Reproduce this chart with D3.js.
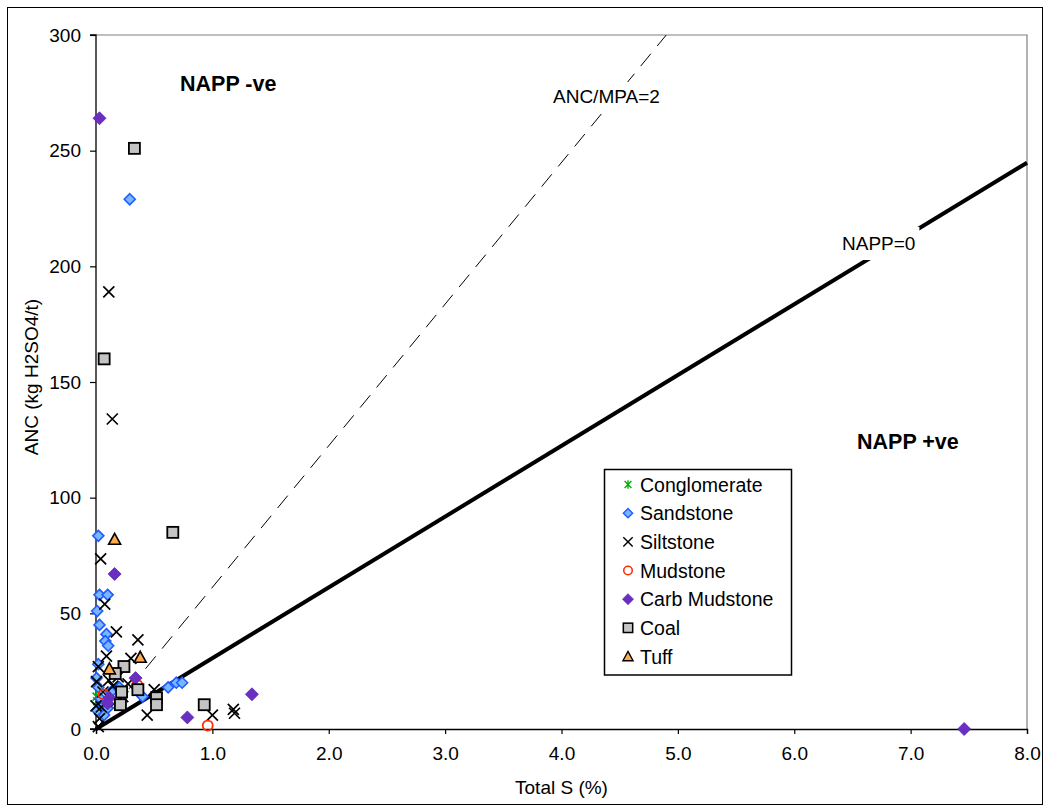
<!DOCTYPE html>
<html>
<head>
<meta charset="utf-8">
<script src="https://cdn.jsdelivr.net/npm/d3@7"></script>
<style>
  html, body { margin: 0; padding: 0; background: #fff; }
  svg { display: block; font-family: "Liberation Sans", Arial, sans-serif; }
</style>
</head>
<body>
<svg id="chart" width="1049" height="810"></svg>
<script>
// Total S (%) and ANC (kg H2SO4/t) for each lithology
const conglomerateS   = [0.005, 0.01];
const conglomerateANC = [14, 12];

const sandstoneS   = [0.29, 0.02, 0.03, 0.10, 0.01, 0.03, 0.09, 0.08, 0.105, 0.02, 0.005, 0.02, 0.04, 0.06, 0.10, 0.13, 0.20, 0.40, 0.62, 0.69, 0.74, 0.01, 0.07];
const sandstoneANC = [229, 83.5, 58, 58, 51, 45, 41, 38, 36, 28, 22, 18, 13, 10, 9, 16, 18, 14, 18, 20, 20, 8, 6];

const siltstoneS   = [0.11, 0.14, 0.04, 0.075, 0.175, 0.36, 0.09, 0.30, 0.02, 0.005, 0.19, 0.145, 0.275, 0.175, 0.045, 0.03, 0.02, 0.44, 1.0, 1.18, 1.19, 0.5, 0.0, 0.06, 0.11, 0.23];
const siltstoneANC = [189, 134, 73.5, 54, 42, 38.5, 31.5, 30.5, 27, 20.5, 22.5, 18.5, 19.5, 12, 9.5, 4.5, 1, 6, 6, 8.5, 6.8, 17, 10, 16, 21, 14];

const mudstoneS   = [0.96, 0.065, 0.355];
const mudstoneANC = [1.5, 15, 19];

const carbMudstoneS   = [0.03, 0.16, 0.34, 0.115, 0.10, 0.785, 1.34, 7.46];
const carbMudstoneANC = [264, 67, 22, 13.5, 11, 5, 15, 0];

const coalS   = [0.33, 0.07, 0.66, 0.24, 0.165, 0.22, 0.36, 0.21, 0.52, 0.52, 0.93];
const coalANC = [251, 160, 85, 27, 24, 16, 17, 10.5, 13.5, 10.5, 10.5];

const tuffS   = [0.16, 0.38, 0.115];
const tuffANC = [82, 31, 26];

// Reference lines: NAPP = 0 and ANC/MPA = 2
const nappZeroS   = [0, 8];
const nappZeroANC = [0, 244.8];
const ratioTwoS   = [0, 4.9];
const ratioTwoANC = [0, 300];

const xTicks = [0, 1, 2, 3, 4, 5, 6, 7, 8];
const yTicks = [0, 50, 100, 150, 200, 250, 300];

const seriesNames = ["Conglomerate", "Sandstone", "Siltstone", "Mudstone", "Carb Mudstone", "Coal", "Tuff"];

const zip = (xs, ys) => xs.map((v, i) => ({ s: v, anc: ys[i] }));
const series = [
  { name: "Conglomerate",  kind: "star",     data: zip(conglomerateS, conglomerateANC) },
  { name: "Sandstone",     kind: "sand",     data: zip(sandstoneS, sandstoneANC) },
  { name: "Siltstone",     kind: "cross",    data: zip(siltstoneS, siltstoneANC) },
  { name: "Mudstone",      kind: "circle",   data: zip(mudstoneS, mudstoneANC) },
  { name: "Carb Mudstone", kind: "carb",     data: zip(carbMudstoneS, carbMudstoneANC) },
  { name: "Coal",          kind: "square",   data: zip(coalS, coalANC) },
  { name: "Tuff",          kind: "triangle", data: zip(tuffS, tuffANC) }
];

const svg = d3.select("#chart");
const plot = { left: 96, right: 1027, top: 35, bottom: 729 };

const x = d3.scaleLinear().domain([0, 8]).range([plot.left, plot.right]);
const y = d3.scaleLinear().domain([0, 300]).range([plot.bottom, plot.top]);

// outer chart frame
svg.append("rect")
  .attr("x", 7.5).attr("y", 7.5).attr("width", 1035).attr("height", 797)
  .attr("fill", "#fff").attr("stroke", "#000").attr("stroke-width", 1);

// plot area border (top / right in grey)
svg.append("path")
  .attr("d", `M${plot.left},${plot.top}H${plot.right}V${plot.bottom}`)
  .attr("fill", "none").attr("stroke", "#808080").attr("stroke-width", 1.2);

// reference lines
const lineGen = d3.line().x(d => x(d.s)).y(d => y(d.anc));
svg.append("path")
  .datum(zip(ratioTwoS, ratioTwoANC))
  .attr("d", lineGen)
  .attr("fill", "none").attr("stroke", "#000").attr("stroke-width", 1)
  .attr("stroke-dasharray", "16,10");
svg.append("path")
  .datum(zip(nappZeroS, nappZeroANC))
  .attr("d", lineGen)
  .attr("fill", "none").attr("stroke", "#000").attr("stroke-width", 4);

// line labels with white backing
function boxedLabel(tx, ty, text, pad) {
  const g = svg.append("g");
  const t = g.append("text").attr("x", tx).attr("y", ty)
    .attr("font-size", 19).attr("fill", "#000").text(text);
  const bb = t.node().getBBox();
  g.insert("rect", "text")
    .attr("x", bb.x - pad[0]).attr("y", bb.y - pad[1])
    .attr("width", bb.width + 2 * pad[0]).attr("height", bb.height + 2 * pad[1])
    .attr("fill", "#fff");
}
boxedLabel(553, 103, "ANC/MPA=2", [3, 4]);
boxedLabel(842, 250, "NAPP=0", [4, 6]);

// axes
const yAxis = svg.append("g")
  .attr("transform", `translate(${plot.left},0)`)
  .call(d3.axisLeft(y).tickValues(yTicks).tickSize(6).tickPadding(9).tickFormat(d3.format("d")));
const xAxis = svg.append("g")
  .attr("transform", `translate(0,${plot.bottom})`)
  .call(d3.axisBottom(x).tickValues(xTicks).tickSize(5).tickPadding(13).tickFormat(d3.format(".1f")));
[yAxis, xAxis].forEach(a => {
  a.select(".domain").attr("stroke", "#000").attr("stroke-width", 1.3);
  a.selectAll(".tick line").attr("stroke", "#000").attr("stroke-width", 1.2);
  a.selectAll(".tick text").attr("font-size", 19).attr("fill", "#000")
    .attr("font-family", "'Liberation Sans', Arial, sans-serif");
});
yAxis.select(".domain").attr("d", `M-6,${plot.top}H0V${plot.bottom}H-6`);

// axis titles
svg.append("text")
  .attr("transform", `translate(38,${(plot.top + plot.bottom) / 2 - 5}) rotate(-90)`)
  .attr("text-anchor", "middle").attr("font-size", 19).attr("fill", "#000")
  .text("ANC (kg H2SO4/t)");
svg.append("text")
  .attr("x", (plot.left + plot.right) / 2).attr("y", 794)
  .attr("text-anchor", "middle").attr("font-size", 19).attr("fill", "#000")
  .text("Total S (%)");

// region labels
svg.append("text").attr("x", 180).attr("y", 91)
  .attr("font-size", 21.5).attr("font-weight", "bold").text("NAPP -ve");
svg.append("text").attr("x", 857).attr("y", 449)
  .attr("font-size", 21.5).attr("font-weight", "bold").text("NAPP +ve");

// marker drawing
function drawMarker(g, kind) {
  switch (kind) {
    case "star":
      g.append("path").attr("d", "M-4,-4L4,4M-4,4L4,-4M0,-5V5")
        .attr("stroke", "#00b000").attr("stroke-width", 1.6).attr("fill", "none");
      break;
    case "sand":
      g.append("path").attr("d", "M0,-5.5L5.5,0L0,5.5L-5.5,0Z")
        .attr("fill", "#7ab6ff").attr("stroke", "#1f5cff").attr("stroke-width", 1.6);
      break;
    case "cross":
      g.append("path").attr("d", "M-5.5,-5.5L5.5,5.5M-5.5,5.5L5.5,-5.5")
        .attr("stroke", "#000").attr("stroke-width", 1.7).attr("fill", "none");
      break;
    case "circle":
      g.append("circle").attr("r", 5)
        .attr("fill", "none").attr("stroke", "#ff2a00").attr("stroke-width", 1.8);
      break;
    case "carb":
      g.append("path").attr("d", "M0,-6.5L6.5,0L0,6.5L-6.5,0Z")
        .attr("fill", "#6a2fc2").attr("stroke", "#5b28b0").attr("stroke-width", 0.8);
      break;
    case "square":
      g.append("rect").attr("x", -5.5).attr("y", -5.5).attr("width", 11).attr("height", 11)
        .attr("fill", "#c4c4c4").attr("stroke", "#000").attr("stroke-width", 1.8);
      break;
    case "triangle":
      g.append("path").attr("d", "M0,-6L6,5H-6Z")
        .attr("fill", "#ffaa4c").attr("stroke", "#000").attr("stroke-width", 1.6)
        .attr("stroke-linejoin", "miter");
      break;
  }
}

// data points, series drawn in legend order
series.forEach(sr => {
  const g = svg.append("g").attr("class", "series");
  g.selectAll("g.pt").data(sr.data).enter().append("g")
    .attr("class", "pt")
    .attr("transform", d => `translate(${x(d.s)},${y(d.anc)})`)
    .each(function () { drawMarker(d3.select(this), sr.kind); });
});

// legend
const legend = svg.append("g");
legend.append("rect")
  .attr("x", 604.5).attr("y", 469.5).attr("width", 187).attr("height", 205.5)
  .attr("fill", "#fff").attr("stroke", "#000").attr("stroke-width", 1.5);
const ly = d3.scalePoint().domain(seriesNames).range([484.5, 656.5]);
series.forEach(sr => {
  const row = legend.append("g").attr("transform", `translate(628,${ly(sr.name)})`);
  const m = row.append("g").attr("transform", "scale(0.85)");
  drawMarker(m, sr.kind);
  row.append("text").attr("x", 12).attr("y", 7)
    .attr("font-size", 19.5).attr("fill", "#000").text(sr.name);
});
</script>
</body>
</html>
